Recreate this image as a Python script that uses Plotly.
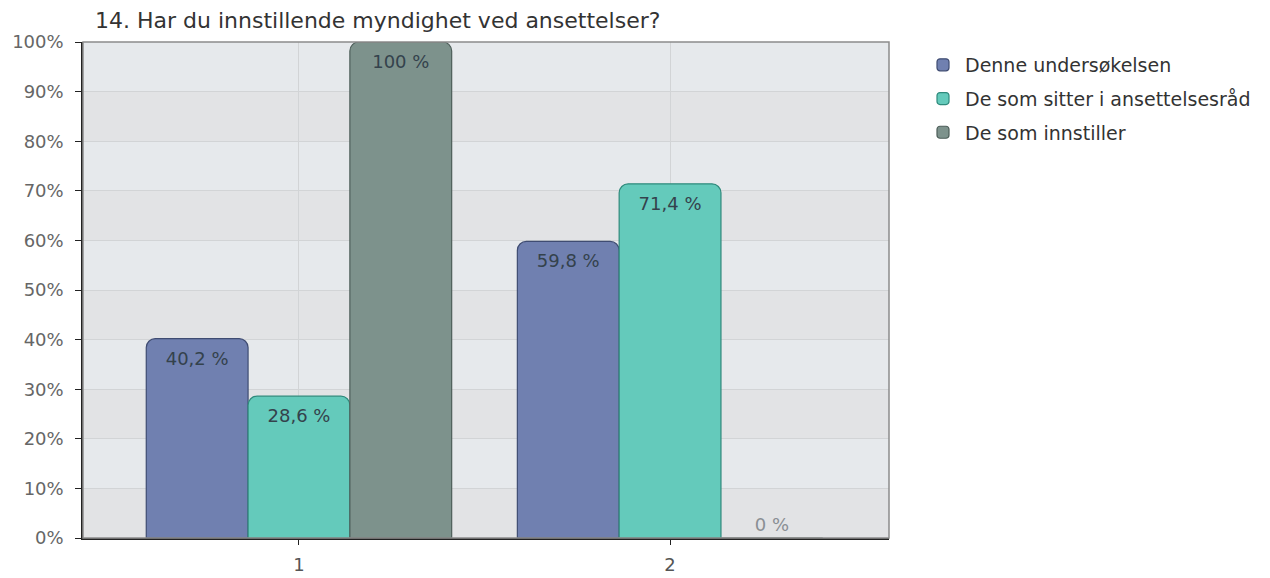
import plotly.graph_objects as go

title_text = "14. Har du innstillende myndighet ved ansettelser?"
categories = ["1", "2"]
series_names = ["Denne undersøkelsen", "De som sitter i ansettelsesråd", "De som innstiller"]
series_values = {
    "Denne undersøkelsen": [40.2, 59.8],
    "De som sitter i ansettelsesråd": [28.6, 71.4],
    "De som innstiller": [100, 0],
}
series_colors = {
    "Denne undersøkelsen": ("#7080b0", "#3f4c72"),
    "De som sitter i ansettelsesråd": ("#64cabb", "#2f8a7c"),
    "De som innstiller": ("#7d928c", "#4d5e59"),
}
y_ticks = [0, 10, 20, 30, 40, 50, 60, 70, 80, 90, 100]
y_tick_labels = [f"{t}%" for t in y_ticks]

FONT = "DejaVu Sans, Verdana, sans-serif"
OFF = 8  # browser body margin compensation


def fmt(v):
    s = f"{v:g}".replace(".", ",")
    return f"{s} %"


fig = go.Figure()
for name in series_names:
    vals = series_values[name]
    fill, edge = series_colors[name]
    fig.add_trace(go.Bar(
        name=name,
        x=categories,
        y=vals,
        text=[fmt(v) for v in vals],
        textposition=["inside" if v > 0 else "outside" for v in vals],
        insidetextanchor="end",
        textangle=0,
        cliponaxis=False,
        textfont=dict(family=FONT, size=18, color="#34424c"),
        outsidetextfont=dict(family=FONT, size=18, color="#8a8f94"),
        marker=dict(color=fill, line=dict(color=edge, width=1.2)),
        legendgroup=name,
    ))

# alternating background bands derived from tick values
shapes = []
for i in range(len(y_ticks) - 1):
    shapes.append(dict(
        type="rect", xref="paper", yref="y", x0=0, x1=1,
        y0=y_ticks[i], y1=y_ticks[i + 1],
        fillcolor="#e2e3e5" if (len(y_ticks) - 2 - i) % 2 == 1 else "#e6e9ec",
        line=dict(width=0), layer="below",
    ))
shapes.append(dict(type="rect", xref="paper", yref="paper", x0=0, x1=1, y0=0, y1=1,
                   line=dict(color="#8c8c8c", width=1.5), fillcolor="rgba(0,0,0,0)", layer="above"))

W, H = 1270, 578
L, T, PW, PH = 83 - OFF, 42 - OFF, 806, 496

fig.update_layout(
    width=W, height=H,
    margin=dict(l=L, r=W - L - PW, t=T, b=H - T - PH, autoexpand=False),
    paper_bgcolor="white",
    plot_bgcolor="#e6e9ec",
    barmode="group",
    bargap=0.177,
    bargroupgap=0,
    barcornerradius=9,
    font=dict(family=FONT, color="#444"),
    title=dict(text=title_text, x=(95 - OFF) / W, xanchor="left", y=1 - (20 - OFF) / H, yanchor="middle",
               font=dict(family=FONT, size=22, color="#333")),
    legend=dict(x=(921 - 83) / PW, xanchor="left", y=1 - 4 / PH, yanchor="top",
                font=dict(family=FONT, size=19, color="#333"),
                tracegroupgap=6, itemwidth=34, bgcolor="rgba(0,0,0,0)"),
    shapes=shapes,
    showlegend=True,
)
fig.update_xaxes(
    range=[-0.582, 1.590],
    showgrid=True, gridcolor="#d2d4d6", gridwidth=1,
    showline=True, linecolor="#222", linewidth=1.5,
    ticks="outside", ticklen=5, tickcolor="#222",
    ticklabelstandoff=5,
    tickfont=dict(family=FONT, size=18, color="#555"),
    zeroline=False,
)
fig.update_yaxes(
    range=[0, 100],
    tickvals=y_ticks, ticktext=y_tick_labels,
    showgrid=True, gridcolor="#d2d4d6", gridwidth=1,
    showline=True, linecolor="#222", linewidth=1.5,
    ticks="outside", ticklen=6, tickcolor="#222",
    ticklabelstandoff=8,
    tickfont=dict(family=FONT, size=18, color="#666"),
    zeroline=False,
)

fig.write_html("out.html")
